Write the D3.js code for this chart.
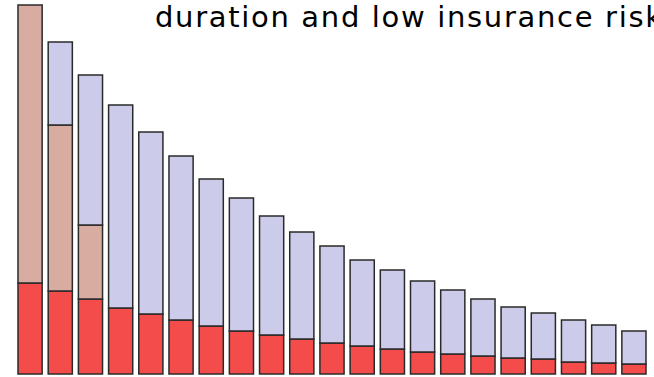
<!DOCTYPE html>
<html><head><meta charset="utf-8">
<script src="https://cdn.jsdelivr.net/npm/d3@7"></script>
<style>html,body{margin:0;padding:0;background:#fff;overflow:hidden}</style>
</head><body>
<svg id="chart" width="654" height="377"></svg>
<script>
const categories = d3.range(1, 22).map(String);
const redValues      = [91, 83, 75, 66, 60, 54, 48, 43, 39, 35, 31, 28, 25, 22, 20, 18, 16, 15, 12, 11, 10];
const tanValues      = [278, 166, 74, 0, 0, 0, 0, 0, 0, 0, 0, 0, 0, 0, 0, 0, 0, 0, 0, 0, 0];
const lavenderValues = [0, 83, 150, 203, 182, 164, 147, 133, 119, 107, 97, 86, 79, 71, 64, 57, 51, 46, 42, 38, 33];
const titleText = "duration and low insurance risk";

const svg = d3.select("#chart");
const x = d3.scaleBand().domain(categories).range([18, 646]).paddingInner(0.2).paddingOuter(0);
const y = d3.scaleLinear().domain([0, 369]).range([374, 5]);

const keys = ["red", "tan", "lavender"];
const colors = {red: "#f44b4b", tan: "#d9aca2", lavender: "#ccccea"};
const rows = categories.map((c, i) => ({cat: c, red: redValues[i], tan: tanValues[i], lavender: lavenderValues[i]}));
const stacked = d3.stack().keys(keys)(rows);

svg.append("g").selectAll("g").data(stacked).join("g")
  .attr("fill", d => colors[d.key])
  .selectAll("rect").data(d => d.filter(p => p[1] - p[0] > 0)).join("rect")
  .attr("x", d => x(d.data.cat))
  .attr("width", x.bandwidth())
  .attr("y", d => y(d[1]))
  .attr("height", d => y(d[0]) - y(d[1]))
  .attr("stroke", "#2a2a2a")
  .attr("stroke-width", 1.5);

svg.append("text")
  .attr("x", 155).attr("y", 27)
  .attr("font-family", "DejaVu Sans, Verdana, sans-serif")
  .attr("font-size", 29)
  .attr("textLength", 507)
  .attr("lengthAdjust", "spacing")
  .attr("fill", "#000")
  .text(titleText);
</script>
</body></html>
